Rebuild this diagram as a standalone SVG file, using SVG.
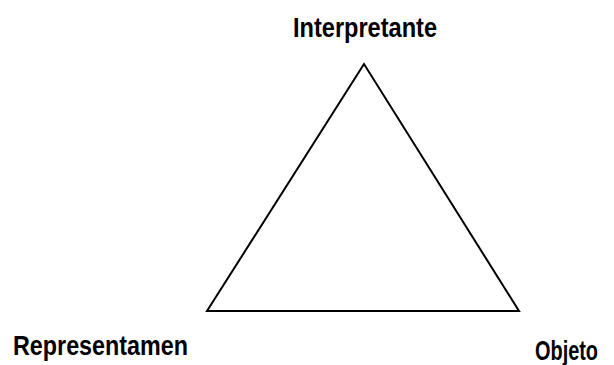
<svg xmlns="http://www.w3.org/2000/svg" width="614" height="365" viewBox="0 0 614 365">
<style>
.lbl{font-family:"Liberation Sans",Arial,sans-serif;font-weight:bold;font-size:28px;fill:#000}
.edge{fill:none;stroke:#000;stroke-width:2;stroke-linejoin:miter}
</style>
<rect width="614" height="365" fill="#fff"/>
<g id="connectors">
<polygon class="edge" points="364,64 207,311 519,311"/>
</g>
<g id="interpretante"><text class="lbl" x="293" y="37" textLength="144" lengthAdjust="spacingAndGlyphs">Interpretante</text></g>
<g id="representamen"><text class="lbl" x="13" y="355" textLength="175" lengthAdjust="spacingAndGlyphs">Representamen</text></g>
<g id="objeto"><text class="lbl" x="535" y="360" textLength="63" lengthAdjust="spacingAndGlyphs">Objeto</text></g>
</svg>
